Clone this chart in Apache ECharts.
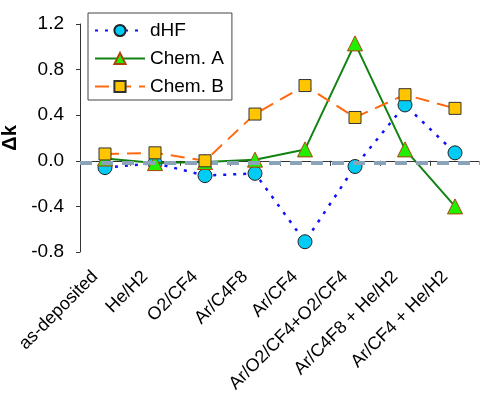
<!DOCTYPE html>
<html>
<head>
<meta charset="utf-8">
<script src="https://cdn.jsdelivr.net/npm/echarts@6/dist/echarts.min.js"></script>
<style>
  html, body { margin: 0; padding: 0; background: #fff; }
  #chart { width: 480px; height: 397px; }
</style>
</head>
<body>
<div id="chart"></div>
<script>
const categories = ['as-deposited', 'He/H2', 'O2/CF4', 'Ar/C4F8', 'Ar/CF4',
  'Ar/O2/CF4+O2/CF4', 'Ar/C4F8 + He/H2', 'Ar/CF4 + He/H2']
const dHF = [-0.06, -0.02, -0.13, -0.11, -0.71, -0.05, 0.49, 0.07]
const chemA = [0.02, -0.02, -0.01, 0.01, 0.10, 1.03, 0.10, -0.40]
const chemB = [0.06, 0.07, 0.00, 0.41, 0.66, 0.38, 0.58, 0.46]
const refLine = -0.02
const yTicks = { min: -0.8, max: 1.2, interval: 0.4 }

const font = 'Liberation Sans, Arial, sans-serif'
const chart = echarts.init(document.getElementById('chart'))

const option = {
  animation: false,
  grid: { left: 80, right: 0, top: 24, bottom: 145, containLabel: false, outerBoundsMode: 'none' },
  legend: {
    orient: 'vertical',
    left: 88,
    top: 13,
    padding: [8, 8, 4, 6],
    itemWidth: 50,
    itemHeight: 14,
    itemGap: 9,
    borderColor: '#444',
    borderWidth: 1,
    textStyle: { fontFamily: font, fontSize: 19, color: '#000' },
    data: ['dHF', 'Chem. A', 'Chem. B']
  },
  xAxis: {
    type: 'category',
    data: categories,
    boundaryGap: true,
    axisLine: { lineStyle: { color: '#333', width: 1 } },
    axisTick: { show: true, length: 5, alignWithLabel: false, lineStyle: { color: '#333' } },
    axisLabel: {
      rotate: 45,
      interval: 0,
      margin: 12,
      padding: [0, 14, 0, 0],
      fontFamily: font,
      fontSize: 18,
      color: '#000'
    },
    splitLine: { show: false }
  },
  yAxis: {
    type: 'value',
    min: yTicks.min,
    max: yTicks.max,
    interval: yTicks.interval,
    name: 'Δk',
    nameLocation: 'middle',
    nameGap: 51,
    nameRotate: 90,
    nameTextStyle: { fontFamily: font, fontSize: 20, fontWeight: 'bold', color: '#000' },
    axisLine: { show: true, lineStyle: { color: '#333', width: 1 } },
    axisTick: { show: true, length: 4, lineStyle: { color: '#333' } },
    axisLabel: {
      fontFamily: font,
      fontSize: 19,
      color: '#000',
      margin: 16,
      formatter: v => v.toFixed(1)
    },
    splitLine: { show: false }
  },
  series: [
    {
      name: 'dHF',
      type: 'line',
      data: dHF,
      symbol: 'circle',
      symbolSize: 14,
      z: 3,
      lineStyle: { color: '#1010ff', width: 2.5, type: [3, 7] },
      itemStyle: { color: '#00ccf5', borderColor: '#222', borderWidth: 1 },
      markLine: {
        silent: true,
        symbol: 'none',
        label: { show: false },
        lineStyle: { color: '#8ba3b8', width: 4, type: [12, 9] },
        data: [{ yAxis: refLine }]
      }
    },
    {
      name: 'Chem. A',
      type: 'line',
      data: chemA,
      symbol: 'triangle',
      symbolSize: 15,
      z: 4,
      lineStyle: { color: '#128212', width: 2 },
      itemStyle: { color: '#22ee00', borderColor: '#b04010', borderWidth: 1 }
    },
    {
      name: 'Chem. B',
      type: 'line',
      data: chemB,
      symbol: 'rect',
      symbolSize: 12,
      z: 5,
      lineStyle: { color: '#ff6a10', width: 2, type: [14, 8] },
      itemStyle: { color: '#ffc600', borderColor: '#333', borderWidth: 1 }
    }
  ]
}

chart.setOption(option)
</script>
</body>
</html>
